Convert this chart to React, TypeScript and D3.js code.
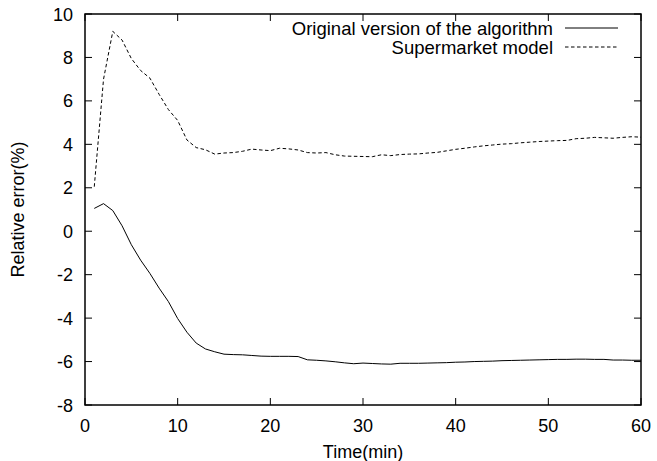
import React from "react";
import * as d3 from "d3";

const minutes = d3.range(1, 61);

const originalValues = [
  1.05, 1.27, 0.95, 0.25, -0.62, -1.33, -1.94, -2.62, -3.24, -4.02,
  -4.65, -5.15, -5.42, -5.55, -5.66, -5.68, -5.69, -5.72, -5.75, -5.76,
  -5.76, -5.76, -5.77, -5.92, -5.94, -5.97, -6.01, -6.06, -6.1, -6.07,
  -6.09, -6.11, -6.12, -6.08, -6.08, -6.08, -6.07, -6.06, -6.05, -6.03,
  -6.02, -6.0, -5.99, -5.98, -5.96, -5.95, -5.94, -5.93, -5.92, -5.91,
  -5.9, -5.9, -5.89, -5.89, -5.9, -5.9, -5.93, -5.93, -5.94, -5.94,
];

const supermarketValues = [
  2.05, 7.0, 9.2, 8.8, 7.95, 7.4, 7.05, 6.3, 5.6, 5.1,
  4.2, 3.85, 3.75, 3.55, 3.6, 3.62, 3.68, 3.78, 3.74, 3.71,
  3.82, 3.79, 3.74, 3.62, 3.6, 3.62, 3.52, 3.46, 3.45, 3.44,
  3.43, 3.52, 3.48, 3.53, 3.55, 3.56, 3.6, 3.63, 3.7, 3.77,
  3.82, 3.88, 3.93, 3.97, 4.01, 4.03, 4.07, 4.1, 4.13, 4.15,
  4.17, 4.18, 4.26, 4.28, 4.32, 4.3, 4.28, 4.32, 4.35, 4.33,
];

const xTicks = [0, 10, 20, 30, 40, 50, 60];
const yTicks = [-8, -6, -4, -2, 0, 2, 4, 6, 8, 10];

const seriesNames = ["Original version of the algorithm", "Supermarket model"];

const W = 657;
const H = 461;
const M = { left: 85, right: 16, top: 14, bottom: 56 };
const FONT = "'Liberation Sans', Arial, Helvetica, sans-serif";
const FS = 18;

export default function App() {
  const x = d3.scaleLinear().domain([0, 60]).range([M.left, W - M.right]);
  const y = d3.scaleLinear().domain([-8, 10]).range([H - M.bottom, M.top]);
  const line = d3
    .line<number>()
    .x((_, i) => x(minutes[i]))
    .y((d) => y(d));

  const x0 = x(0), x1 = x(60), y0 = y(-8), y1 = y(10);
  const tl = 7;

  return (
    <svg
      width={W}
      height={H}
      style={{ position: "absolute", left: 0, top: 0, background: "#fff" }}
      fontFamily={FONT}
      fontSize={FS}
    >
      <rect x={0} y={0} width={W} height={H} fill="#fff" />
      {/* series */}
      <path d={line(originalValues) || ""} fill="none" stroke="#000" strokeWidth={1} />
      <path
        d={line(supermarketValues) || ""}
        fill="none"
        stroke="#000"
        strokeWidth={1}
        strokeDasharray="3.5,2.5"
      />
      {/* frame */}
      <rect x={x0} y={y1} width={x1 - x0} height={y0 - y1} fill="none" stroke="#000" strokeWidth={1.5} />
      {/* ticks */}
      {xTicks.map((t) => (
        <g key={"x" + t}>
          <line x1={x(t)} x2={x(t)} y1={y0} y2={y0 - tl} stroke="#000" />
          <line x1={x(t)} x2={x(t)} y1={y1} y2={y1 + tl} stroke="#000" />
          <text x={x(t)} y={y0 + 27} textAnchor="middle" fill="#000">
            {t}
          </text>
        </g>
      ))}
      {yTicks.map((t) => (
        <g key={"y" + t}>
          <line x1={x0} x2={x0 + tl} y1={y(t)} y2={y(t)} stroke="#000" />
          <line x1={x1} x2={x1 - tl} y1={y(t)} y2={y(t)} stroke="#000" />
          <text x={x0 - 12} y={y(t) + 6.5} textAnchor="end" fill="#000">
            {t}
          </text>
        </g>
      ))}
      {/* axis titles */}
      <text x={(x0 + x1) / 2} y={y0 + 53} textAnchor="middle" fill="#000">
        Time(min)
      </text>
      <text
        transform={`translate(24,${(y0 + y1) / 2}) rotate(-90)`}
        textAnchor="middle"
        fill="#000"
      >
        Relative error(%)
      </text>
      {/* legend */}
      {seriesNames.map((name, i) => {
        const ly = 28 + i * 19;
        return (
          <g key={name}>
            <text x={553} y={ly + 6.5} textAnchor="end" fill="#000" fontSize={18.5}>
              {name}
            </text>
            <line
              x1={565}
              x2={618}
              y1={ly}
              y2={ly}
              stroke="#000"
              strokeWidth={1}
              strokeDasharray={i === 1 ? "3.5,2.5" : undefined}
            />
          </g>
        );
      })}
    </svg>
  );
}
